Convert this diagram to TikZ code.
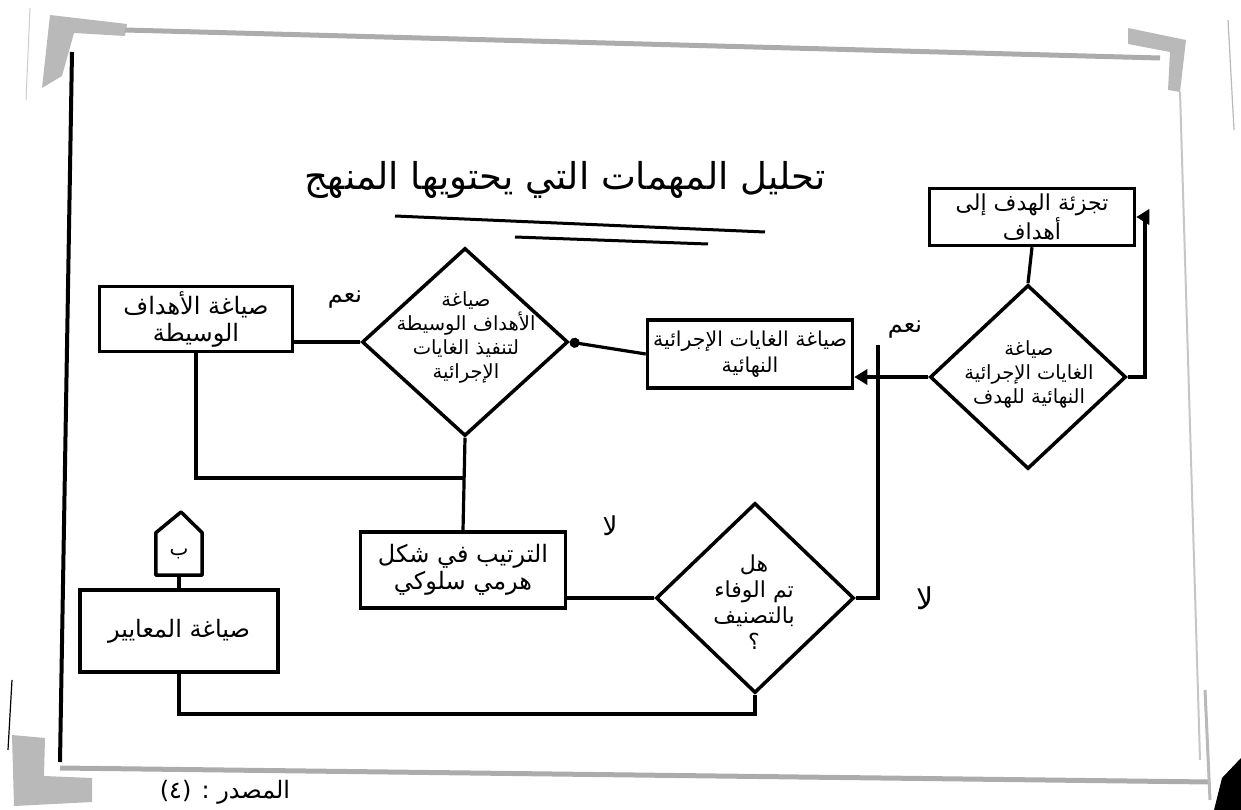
\documentclass[tikz,border=0pt]{standalone}
\usepackage{fontspec}
\newfontfamily\arabicfont[Script=Arabic]{DejaVu Sans}
\TeXXeTstate=1
\usetikzlibrary{arrows.meta,shapes.geometric}
% one right-to-left line of Arabic text
\newcommand{\artext}[1]{{\arabicfont\beginR #1\endR}}

\tikzset{
  boxnode/.style={draw, line width=3.5pt, rectangle, align=center, inner sep=1pt,
    font=\fontsize{24}{27}\selectfont},
  dianode/.style={draw, line width=3.5pt, diamond, inner sep=0pt},
  dtext/.style={align=center, inner sep=0pt, font=\fontsize{19.5}{24}\selectfont},
  link/.style={line width=3.2pt},
  arr/.style={link, -{Triangle[length=13pt,width=15pt]}},
  dotend/.style={link, -{Circle[length=10pt]}},
  answer/.style={inner sep=0pt, font=\fontsize{24}{26}\selectfont},
  edge paper/.style={draw=gray!65, line width=5pt},
  edge fill/.style={fill=gray!55, draw=none},
}

\begin{document}
\begin{tikzpicture}[x=1pt,y=-1pt]
\useasboundingbox (0,0) rectangle (1241,810);

% ---------- sheet edges ----------
\path[edge fill] (50,15) -- (127,24) -- (125,36) -- (74,33) -- (62,76) -- (42,88) -- cycle;
\draw[edge paper] (125,30) -- (1160,58);
\draw[gray!40, line width=1pt] (30,8) -- (26,100);
\draw[line width=4pt] (72,52) -- (60,762);
\path[edge fill] (1128,28) -- (1186,40) -- (1180,92) -- (1168,90) -- (1170,52) -- (1128,44) -- cycle;
\draw[gray!45, line width=2pt] (1180,92) -- (1200,760);
\draw[gray!55, line width=1.2pt] (1228,20) -- (1234,130);
\draw[edge paper] (60,768) -- (1210,782);
\path[edge fill] (12,735) -- (45,738) -- (44,776) -- (92,778) -- (92,802) -- (14,806) -- cycle;
\draw[line width=1.2pt] (12,680) -- (8,750);
\draw[gray!55, line width=3pt] (1205,690) -- (1210,800);
\path[fill=black] (1222,778) -- (1241,758) -- (1241,810) -- (1214,810) -- cycle;

% ---------- title ----------
\node[inner sep=0pt, font=\fontsize{37}{40}\selectfont] (title) at (565,180)
  {\artext{تحليل المهمات التي يحتويها المنهج}};
\coordinate (u1a) at (395,216);
\coordinate (u1b) at (765,232);
\coordinate (u2a) at (515,237);
\coordinate (u2b) at (708,244);
\draw[line width=3pt] (u1a) -- (u1b);
\draw[line width=3pt] (u2a) -- (u2b);

% ---------- boxes ----------
\node[boxnode, minimum width=205pt, minimum height=57pt,
  font=\fontsize{22}{24}\selectfont] (bx1) at (1032,217)
  {\artext{تجزئة الهدف إلى}\\\artext{أهداف}};
\node[boxnode, minimum width=205pt, minimum height=68pt,
  font=\fontsize{20.5}{26}\selectfont] (bx2) at (750,354)
  {\artext{صياغة الغايات الإجرائية}\\\artext{النهائية}};
\node[boxnode, minimum width=193pt, minimum height=65pt] (bx3) at (196,319)
  {\artext{صياغة الأهداف}\\\artext{الوسيطة}};
\node[boxnode, minimum width=205pt, minimum height=76pt] (bx4) at (463,570)
  {\artext{الترتيب في شكل}\\\artext{هرمي سلوكي}};
\node[boxnode, minimum width=198pt, minimum height=82pt] (bx5) at (179,631)
  {\artext{صياغة المعايير}};

% ---------- decisions ----------
\node[dianode, minimum width=196pt, minimum height=184pt] (d1) at (1028,377) {};
\node[dtext] (d1t) at (1029,374)
  {\artext{صياغة}\\\artext{الغايات الإجرائية}\\\artext{النهائية للهدف}};
\node[dianode, minimum width=206pt, minimum height=188pt] (d2) at (465,342) {};
\node[dtext] (d2t) at (466,337)
  {\artext{صياغة}\\\artext{الأهداف الوسيطة}\\\artext{لتنفيذ الغايات}\\\artext{الإجرائية}};
\node[dianode, minimum width=198pt, minimum height=190pt] (d3) at (755,598) {};
\node[dtext, font=\fontsize{22}{26}\selectfont] (d3t) at (754,602)
  {\artext{هل}\\\artext{تم الوفاء}\\\artext{بالتصنيف}\\\artext{؟}};

% ---------- connector (pentagon) ----------
\node[minimum width=46pt, minimum height=42pt, inner sep=0pt,
  font=\fontsize{20}{22}\selectfont] (p) at (179,554) {\artext{ب}};
\coordinate (papex) at (181,512);
\draw[line width=3.5pt, line join=round]
  (p.south west) -- (p.north west) -- (papex) -- (p.north east) -- (p.south east) -- cycle;

% ---------- connectors ----------
\draw[link] (bx1.south) -- (d1.north);
\coordinate (r1) at (1145,217);
\draw[arr] (d1.east) -| (r1) -- (bx1.east);

\coordinate (j1) at (878,377);
\coordinate (jt) at (878,345);
\draw[link] (d1.west) -- (j1);
\draw[arr] (j1) -- (bx2.east |- j1);

\draw[dotend] (bx2.west) -- (d2.east);
\draw[link] (d2.west) -- (d2.west -| bx3.east);

\coordinate (j2) at (463,478);
\draw[link] (bx3.south) |- (j2);
\draw[link] (d2.south) -- (bx4.north);

\draw[link] (d3.west) -- (d3.west -| bx4.east);
\draw[link] (d3.east) -| (jt);

\coordinate (b1) at (755,714);
\draw[link] (d3.south) -- (b1) -| (bx5.south);
\draw[link] (bx5.north) -- (p.south);

% ---------- answers ----------
\node[answer] (yes1) at (905,330) {\artext{نعم}};
\node[answer] (yes2) at (345,300) {\artext{نعم}};
\node[answer, font=\fontsize{26}{28}\selectfont] (no1) at (610,526) {\artext{لا}};
\node[answer, font=\fontsize{30}{32}\selectfont] (no2) at (925,598) {\artext{لا}};

% ---------- source ----------
\node[inner sep=0pt, font=\fontsize{24}{26}\selectfont] (src) at (225,792)
  {\artext{المصدر : (٤)}};
\end{tikzpicture}
\end{document}
